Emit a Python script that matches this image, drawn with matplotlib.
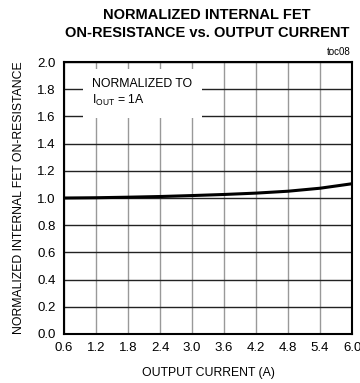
import matplotlib
matplotlib.use("Agg")
from matplotlib import pyplot as plt

# 数据
current = [0.6, 1.2, 1.8, 2.4, 3.0, 3.6, 4.2, 4.8, 5.4, 6.0]
resistance = [1.000, 1.002, 1.006, 1.011, 1.018, 1.026, 1.036, 1.050, 1.072, 1.105]
x_ticks = [0.6, 1.2, 1.8, 2.4, 3.0, 3.6, 4.2, 4.8, 5.4, 6.0]
y_ticks = [0.0, 0.2, 0.4, 0.6, 0.8, 1.0, 1.2, 1.4, 1.6, 1.8, 2.0]

plt.rcParams['font.family'] = ['Liberation Sans', 'DejaVu Sans']

fig = plt.figure(figsize=(3.6, 3.83), dpi=100)
ax = fig.add_axes([0.178, 0.128, 0.8, 0.71])

ax.plot(current, resistance, color='black', linewidth=2.2, zorder=3)

ax.set_xlim(0.6, 6.0)
ax.set_ylim(0.0, 2.0)
ax.set_xticks(x_ticks)
ax.set_xticklabels(['%.1f' % v for v in x_ticks])
ax.set_yticks(y_ticks)
ax.set_yticklabels(['%.1f' % v for v in y_ticks])
ax.tick_params(length=0, labelsize=9.5, pad=6)

# 网格：横线黑，竖线灰
ax.yaxis.grid(True, color='#222222', linewidth=1.0)
ax.xaxis.grid(True, color='#999999', linewidth=1.0)
ax.set_axisbelow(True)
for s in ax.spines.values():
    s.set_linewidth(1.5)

ax.set_xlabel('OUTPUT CURRENT (A)', fontsize=8.8, labelpad=9)
ax.set_ylabel('NORMALIZED INTERNAL FET ON-RESISTANCE', fontsize=8.8, labelpad=9)

fig.suptitle('NORMALIZED INTERNAL FET\nON-RESISTANCE vs. OUTPUT CURRENT',
             fontsize=10.5, fontweight='bold', y=0.978, x=0.575, linespacing=1.3)
fig.text(0.975, 0.85, 'toc08', fontsize=7, ha='right', va='bottom')

ax.text(1.13, 1.885, 'NORMALIZED TO\n$\\mathregular{I_{OUT}}$ = 1A', fontsize=8.8,
        va='top', ha='left', linespacing=1.3,
        bbox=dict(facecolor='white', edgecolor='none', pad=7), zorder=4)

fig.savefig('out.png', dpi=100)
